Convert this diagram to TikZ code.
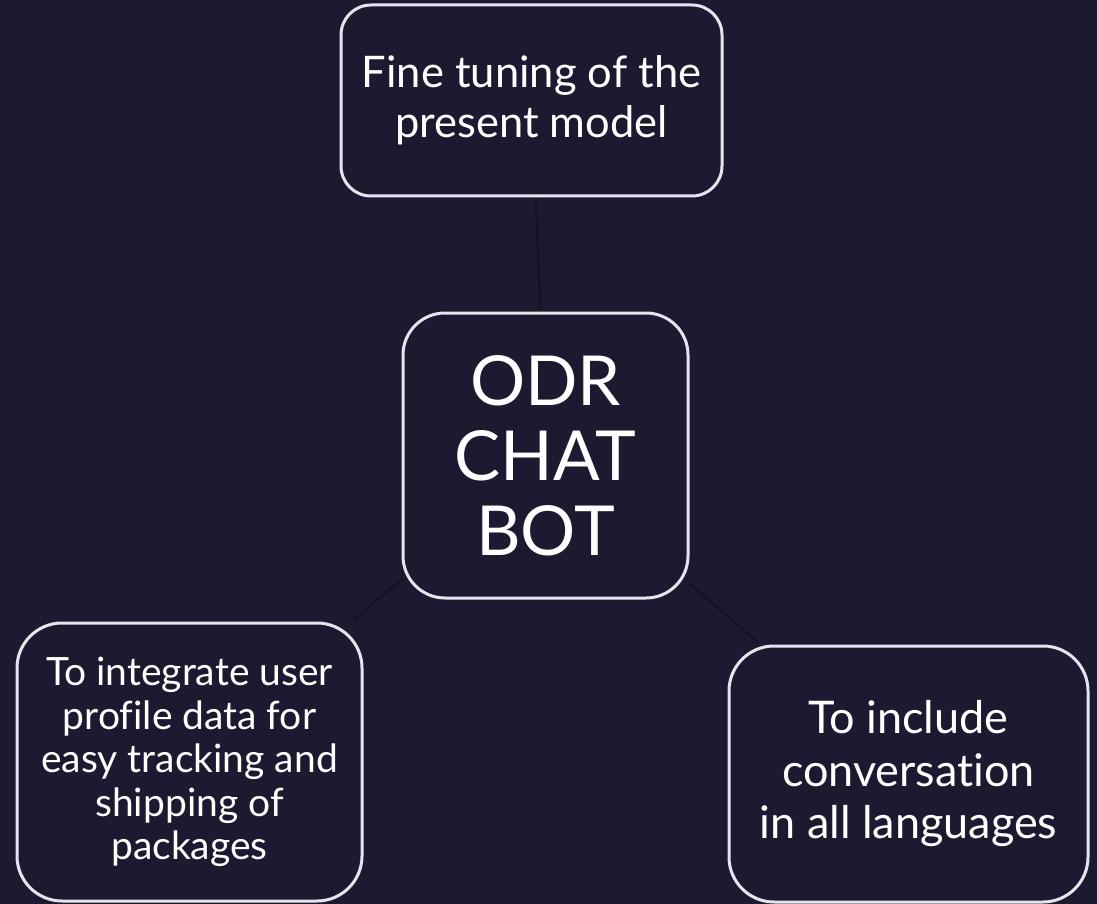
\documentclass[tikz,border=0pt]{standalone}
\usepackage{fontspec}
\setmainfont{Lato}[Ligatures=NoCommon]
\definecolor{bgc}{RGB}{28,26,48}
\definecolor{bordc}{RGB}{232,227,236}
\definecolor{linec}{RGB}{18,17,32}
\begin{document}
\begin{tikzpicture}[x=1pt,y=-1pt,
  boxst/.style={draw=bordc,line width=3pt,fill=bgc,text=white,align=center,inner sep=0pt},
  conn/.style={draw=linec,line width=1.6pt}]
\fill[bgc] (0,0) rectangle (1097,904);
\useasboundingbox (0,0) rectangle (1097,904);
\node[boxst,minimum width=381pt,minimum height=191pt,rounded corners=30pt,
  font=\fontsize{43.5}{50}\selectfont] (top) at (531.5,100.5) {Fine tuning of the\\present model};
\node[boxst,minimum width=285pt,minimum height=285pt,rounded corners=42pt,
  font=\fontsize{69}{75}\selectfont] (ctr) at (545.5,455.5) {ODR\\CHAT\\BOT};
\node[boxst,minimum width=345pt,minimum height=278pt,rounded corners=45pt,
  font=\fontsize{39}{43.5}\selectfont] (lft) at (189.5,762) {To integrate user\\profile data for\\easy tracking and\\shipping of\\packages};
\node[boxst,minimum width=359pt,minimum height=256pt,rounded corners=45pt,
  font=\fontsize{45}{52.5}\selectfont] (rgt) at (908.5,774) {To include\\conversation\\in all languages};
\draw[conn] ([xshift=4pt,yshift=-1.5pt]top.south) -- ([xshift=-5pt,yshift=1.5pt]ctr.north);
\draw[conn] ([yshift=20pt]ctr.south west) -- ([xshift=-10pt,yshift=1.5pt]lft.north east);
\draw[conn] ([yshift=16pt]ctr.south east) -- ([xshift=31pt,yshift=1.5pt]rgt.north west);
\end{tikzpicture}
\end{document}
